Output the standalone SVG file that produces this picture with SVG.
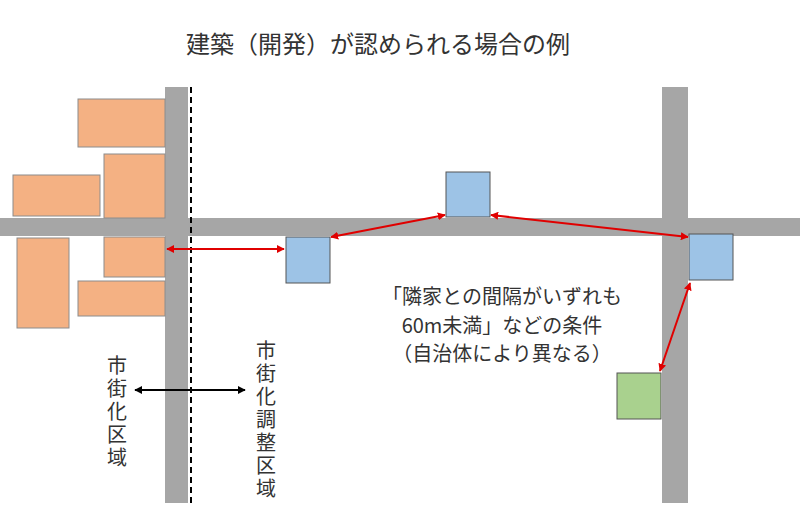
<svg xmlns="http://www.w3.org/2000/svg" width="800" height="528" viewBox="0 0 800 528">
<style>
text{font-family:"Noto Sans CJK JP","Noto Sans",sans-serif;fill:#333}
.road{fill:#A6A6A6}
.bld{fill:#F4B183;stroke:#8C8C8C;stroke-width:1}
.blue{fill:#9DC3E6;stroke:#555;stroke-width:1}
.green{fill:#A9D18E;stroke:#555;stroke-width:1}
.red{stroke:#E00000;stroke-width:2;fill:none;marker-start:url(#ar);marker-end:url(#ar)}
.blk{stroke:#000;stroke-width:2;fill:none;marker-start:url(#ab);marker-end:url(#ab)}
.v{font-size:20px;writing-mode:tb;letter-spacing:3px}
.b{font-size:20px;text-anchor:middle}
</style>
<defs>
<marker id="ar" viewBox="0 0 10 10" refX="9" refY="5" markerWidth="4" markerHeight="4" orient="auto-start-reverse"><path d="M0,0L10,5L0,10z" fill="#E00000"/></marker>
<marker id="ab" viewBox="0 0 10 10" refX="9" refY="5" markerWidth="4" markerHeight="4" orient="auto-start-reverse"><path d="M0,0L10,5L0,10z" fill="#000"/></marker>
</defs>
<rect width="800" height="528" fill="#fff"/>
<g id="roads">
<rect class="road" x="0" y="218" width="800" height="18"/>
<rect class="road" x="165" y="87" width="23" height="416"/>
<rect class="road" x="662" y="87" width="26" height="416"/>
<line x1="191" y1="87" x2="191" y2="503" stroke="#000" stroke-width="2" stroke-dasharray="6,4"/>
</g>
<g id="buildings">
<rect class="bld" x="78" y="99" width="87" height="48"/>
<rect class="bld" x="104" y="154" width="61" height="64"/>
<rect class="bld" x="13" y="175" width="87" height="41"/>
<rect class="bld" x="17" y="238" width="52" height="90"/>
<rect class="bld" x="104" y="237" width="61" height="40"/>
<rect class="bld" x="78" y="281" width="87" height="35"/>
</g>
<g id="house1"><rect class="blue" x="286" y="237" width="44" height="46"/></g>
<g id="house2"><rect class="blue" x="446" y="172" width="44" height="45"/></g>
<g id="house3"><rect class="blue" x="689" y="234" width="44" height="46"/></g>
<g id="house4"><rect class="green" x="617" y="373" width="44" height="46"/></g>
<g id="connectors">
<line class="red" x1="167" y1="249" x2="284" y2="249"/>
<line class="red" x1="331" y1="237" x2="445" y2="215"/>
<line class="red" x1="491" y1="215" x2="688" y2="237"/>
<line class="red" x1="690" y1="283" x2="660" y2="371"/>
<line class="blk" x1="135" y1="390" x2="245" y2="390"/>
</g>
<g id="labels">
<text x="378" y="53" font-size="24" text-anchor="middle">建築（開発）が認められる場合の例</text>
<text class="b" x="502" y="304">「隣家との間隔がいずれも</text>
<text class="b" x="502" y="333">60m未満」などの条件</text>
<text class="b" x="502" y="361">（自治体により異なる）</text>
<text class="v" x="117" y="355">市街化区域</text>
<text class="v" x="266" y="340">市街化調整区域</text>
</g>
</svg>
